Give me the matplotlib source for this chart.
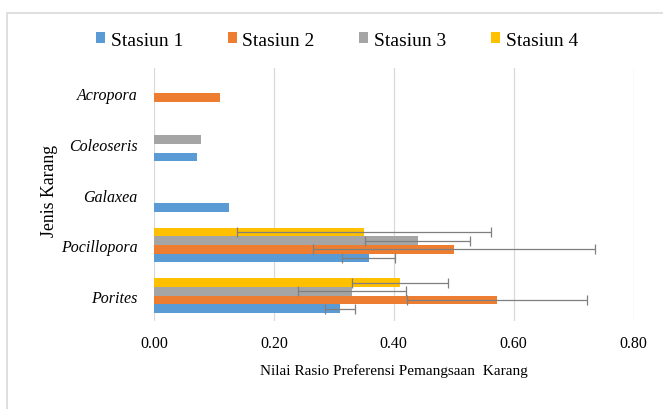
import matplotlib
matplotlib.use("Agg")
import matplotlib.pyplot as plt
import numpy as np
from matplotlib.patches import Rectangle

# --- Data (bottom to top, as drawn) ---
categories = ["Porites", "Pocillopora", "Galaxea", "Coleoseris", "Acropora"]
series_names = ["Stasiun 1", "Stasiun 2", "Stasiun 3", "Stasiun 4"]
stasiun1 = [0.311, 0.358, 0.125, 0.071, 0.0]
stasiun2 = [0.572, 0.500, 0.0, 0.0, 0.110]
stasiun3 = [0.330, 0.440, 0.0, 0.079, 0.0]
stasiun4 = [0.410, 0.350, 0.0, 0.0, 0.0]
err1 = [0.025, 0.044, np.nan, np.nan, np.nan]
err2 = [0.150, 0.235, np.nan, np.nan, np.nan]
err3 = [0.090, 0.088, np.nan, np.nan, np.nan]
err4 = [0.080, 0.212, np.nan, np.nan, np.nan]
xticks = [0.0, 0.2, 0.4, 0.6, 0.8]

colors = ["#5B9BD5", "#ED7D31", "#A5A5A5", "#FFC000"]
values = [stasiun1, stasiun2, stasiun3, stasiun4]
errors = [err1, err2, err3, err4]

plt.rcParams['font.family'] = ['Liberation Serif', 'DejaVu Serif']

fig = plt.figure(figsize=(6.63, 4.10), dpi=100)
ax = fig.add_axes([154 / 663, 1 - 322 / 410, (633.5 - 154) / 663, (322 - 69) / 410])

y = np.arange(len(categories))
h = 0.17
for i, (vals, errs, c, name) in enumerate(zip(values, errors, colors, series_names)):
    yy = y + (i - 1.5) * h
    ax.barh(yy, vals, height=h, color=c, label=name, linewidth=0, zorder=2)
    vals = np.array(vals)
    errs = np.array(errs)
    m = ~np.isnan(errs)
    ax.errorbar(vals[m], yy[m], xerr=errs[m], fmt='none', ecolor='#7F7F7F',
                elinewidth=0.9, capsize=3.5, capthick=0.9, zorder=3)

ax.set_xlim(0, 0.8)
ax.set_ylim(-0.5, len(categories) - 0.5)
ax.set_xticks(xticks)
ax.set_xticklabels([f"{t:.2f}" for t in xticks], fontsize=11.5)
ax.set_yticks(y)
ax.set_yticklabels(categories, fontsize=11.5, style='italic')
ax.tick_params(axis='x', length=0, pad=10)
ax.tick_params(axis='y', length=0, pad=12)
ax.grid(axis='x', color='#D9D9D9', linewidth=0.9, zorder=0)
for s in ax.spines.values():
    s.set_visible(False)

ax.set_xlabel("Nilai Rasio Preferensi Pemangsaan  Karang", fontsize=11, labelpad=9)
fig.text(50 / 663, 1 - 191 / 410, "Jenis Karang", rotation=90, fontsize=12.8,
         ha='center', va='center')

fig.legend(loc='center', bbox_to_anchor=(337 / 663, 1 - 41 / 410), ncol=4,
           frameon=False, fontsize=14, handlelength=0.45, handleheight=0.45,
           handletextpad=0.3, columnspacing=2.3)

# chart border
fig.patches.append(Rectangle((6.5 / 663, -0.1), 1.2, 1 - 13.5 / 410 + 0.1,
                             transform=fig.transFigure, fill=False,
                             edgecolor='#D9D9D9', linewidth=1.2))

fig.savefig("out.png", dpi=100)
